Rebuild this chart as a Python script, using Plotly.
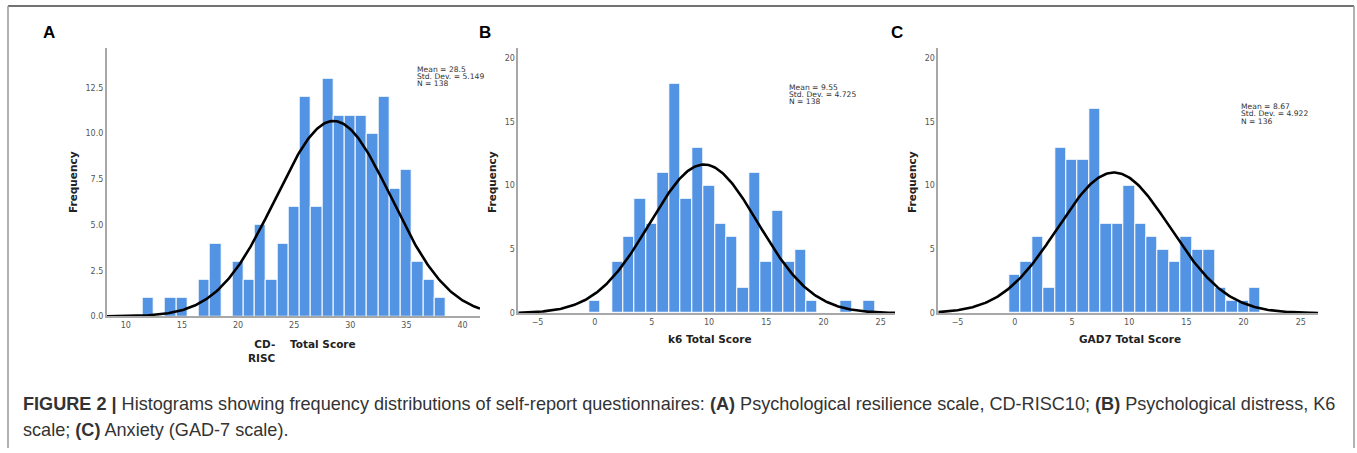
import numpy as np
import plotly.graph_objects as go

W, H = 1357, 453

# ---------------- data ----------------
a_scores = [12, 14, 15, 17, 18, 20, 21, 22, 23, 24, 25, 26, 27, 28, 29, 30, 31, 32, 33, 34, 35, 36, 37, 38]
a_freq = [1, 1, 1, 2, 4, 3, 2, 5, 2, 4, 6, 12, 6, 13, 11, 11, 11, 10, 12, 7, 8, 3, 2, 1]
a_stats = dict(mean=28.5, sd=5.149, n=138)

b_scores = [0, 2, 3, 4, 5, 6, 7, 8, 9, 10, 11, 12, 13, 14, 15, 16, 17, 18, 19, 22, 24]
b_freq = [1, 4, 6, 9, 7, 11, 18, 9, 13, 10, 7, 6, 2, 11, 4, 8, 4, 5, 1, 1, 1]
b_stats = dict(mean=9.55, sd=4.725, n=138)

c_scores = [0, 1, 2, 3, 4, 5, 6, 7, 8, 9, 10, 11, 12, 13, 14, 15, 16, 17, 18, 19, 20, 21]
c_freq = [3, 4, 6, 2, 13, 12, 12, 16, 7, 7, 10, 7, 6, 5, 4, 6, 5, 5, 2, 1, 1, 2]
c_stats = dict(mean=8.67, sd=4.922, n=136)

panel_letters = ["A", "B", "C"]
x_titles = ["CD-<br>RISC", "k6 Total Score", "GAD7 Total Score"]

BAR = "#5393E4"
AXC = "#a8a8a8"
TICKC = "#555555"


def px_x(p):
    return p / W


def px_y(p):
    return 1 - p / H


fig = go.Figure()

panels = [
    dict(scores=a_scores, freq=a_freq, st=a_stats, xr=[8.3, 41.55], yr=[0, 14.7],
         xd=[106.7, 480], yd=[320, 48.3], dtick_y=2.5, fmt=".1f", xt=[10, 15, 20, 25, 30, 35, 40]),
    dict(scores=b_scores, freq=b_freq, st=b_stats, xr=[-6.68, 26.25], yr=[0, 20.8],
         xd=[518.3, 895], yd=[316.7, 48.3], dtick_y=5, fmt="d", xt=[-5, 0, 5, 10, 15, 20, 25]),
    dict(scores=c_scores, freq=c_freq, st=c_stats, xr=[-6.68, 26.5], yr=[0, 20.8],
         xd=[938.3, 1318], yd=[316.7, 48.3], dtick_y=5, fmt="d", xt=[-5, 0, 5, 10, 15, 20, 25]),
]

for i, p in enumerate(panels):
    k = "" if i == 0 else str(i + 1)
    xa, ya = "x" + k, "y" + k
    fig.add_trace(go.Bar(x=p["scores"], y=p["freq"], width=1, xaxis=xa, yaxis=ya,
                         marker=dict(color=BAR, line=dict(color="white", width=1)),
                         showlegend=False, hoverinfo="x+y"))
    xs = np.linspace(p["xr"][0], p["xr"][1], 300)
    st = p["st"]
    ys = st["n"] * np.exp(-0.5 * ((xs - st["mean"]) / st["sd"]) ** 2) / (st["sd"] * np.sqrt(2 * np.pi))
    fig.add_trace(go.Scatter(x=xs, y=ys, mode="lines", xaxis=xa, yaxis=ya,
                             line=dict(color="black", width=2.6), showlegend=False, hoverinfo="skip"))
    fig.update_layout(**{
        "xaxis" + k: dict(domain=[px_x(p["xd"][0]), px_x(p["xd"][1])], range=p["xr"],
                          anchor=ya, showline=True, linecolor=AXC, linewidth=1.5,
                          showgrid=False, zeroline=False, ticks="", tickvals=p["xt"],
                          tickfont=dict(size=8, color=TICKC, family="DejaVu Sans"), fixedrange=True),
        "yaxis" + k: dict(domain=[px_y(p["yd"][0]), px_y(p["yd"][1])], range=p["yr"],
                          anchor=xa, showline=True, linecolor=AXC, linewidth=1.5,
                          showgrid=False, zeroline=False, ticks="", dtick=p["dtick_y"],
                          tickformat=p["fmt"],
                          tickfont=dict(size=8, color=TICKC, family="DejaVu Sans"), fixedrange=True),
    })

annotations = []
# panel letters
for letter, xpx in zip(panel_letters, [49, 485, 897]):
    annotations.append(dict(x=px_x(xpx), y=px_y(33), xref="paper", yref="paper", text="<b>" + letter + "</b>",
                            showarrow=False, font=dict(size=17, color="black", family="Liberation Sans"),
                            xanchor="center", yanchor="middle"))
# Frequency titles
for xpx, ypx in [(73, 184), (492, 184), (912, 184)]:
    annotations.append(dict(x=px_x(xpx), y=px_y(ypx), xref="paper", yref="paper", text="<b>Frequency</b>",
                            showarrow=False, textangle=-90, font=dict(size=10.5, color="#222", family="DejaVu Sans"),
                            xanchor="center", yanchor="middle"))
# x titles
annotations.append(dict(x=px_x(278), y=px_y(340), xref="paper", yref="paper", text="<b>" + x_titles[0] + "</b>",
                        showarrow=False, align="right", font=dict(size=10.5, color="#222", family="DejaVu Sans"),
                        xanchor="right", yanchor="top"))
annotations.append(dict(x=px_x(288), y=px_y(340), xref="paper", yref="paper", text="<b>Total Score</b>",
                        showarrow=False, font=dict(size=10.5, color="#222", family="DejaVu Sans"),
                        xanchor="left", yanchor="top"))
annotations.append(dict(x=px_x(710), y=px_y(343), xref="paper", yref="paper", text="<b>" + x_titles[1] + "</b>",
                        showarrow=False, font=dict(size=10.5, color="#222", family="DejaVu Sans"),
                        xanchor="center", yanchor="middle"))
annotations.append(dict(x=px_x(1130), y=px_y(343), xref="paper", yref="paper", text="<b>" + x_titles[2] + "</b>",
                        showarrow=False, font=dict(size=10.5, color="#222", family="DejaVu Sans"),
                        xanchor="center", yanchor="middle"))
# stats text
for st, (xpx, ypx) in zip([a_stats, b_stats, c_stats], [(416, 70), (788, 88), (1240, 108)]):
    lines = [f"Mean = {st['mean']}", f"Std. Dev. = {st['sd']}", f"N = {st['n']}"]
    for j, line in enumerate(lines):
        annotations.append(dict(x=px_x(xpx), y=px_y(ypx + j * 7.2), xref="paper", yref="paper", text=line,
                                showarrow=False, font=dict(size=7.6, color="#333", family="DejaVu Sans"),
                                xanchor="left", yanchor="middle", borderpad=0))
# caption
cap1 = ("<b>FIGURE 2 |</b> Histograms showing frequency distributions of self-report questionnaires: "
        "<b>(A)</b> Psychological resilience scale, CD-RISC10; <b>(B)</b> Psychological distress, K6")
cap2 = "scale; <b>(C)</b> Anxiety (GAD-7 scale)."
annotations.append(dict(x=px_x(21), y=px_y(409), xref="paper", yref="paper", text=cap1, showarrow=False,
                        font=dict(size=18.1, color="#333", family="Liberation Sans"), xanchor="left", yanchor="middle"))
annotations.append(dict(x=px_x(21), y=px_y(435), xref="paper", yref="paper", text=cap2, showarrow=False,
                        font=dict(size=18.1, color="#333", family="Liberation Sans"), xanchor="left", yanchor="middle"))

shapes = [
    dict(type="line", xref="paper", yref="paper", x0=px_x(8), x1=px_x(1354), y0=px_y(6), y1=px_y(6),
         line=dict(color="#444", width=1.5)),
    dict(type="line", xref="paper", yref="paper", x0=px_x(8), x1=px_x(8), y0=px_y(6), y1=0,
         line=dict(color="#999", width=1.5)),
    dict(type="line", xref="paper", yref="paper", x0=px_x(1354), x1=px_x(1354), y0=px_y(6), y1=0,
         line=dict(color="#999", width=1.5)),
]

fig.update_layout(width=W, height=H, margin=dict(l=0, r=0, t=0, b=0), paper_bgcolor="white",
                  plot_bgcolor="white", bargap=0, annotations=annotations, shapes=shapes,
                  font=dict(family="DejaVu Sans"))

fig.write_html("out.html")
